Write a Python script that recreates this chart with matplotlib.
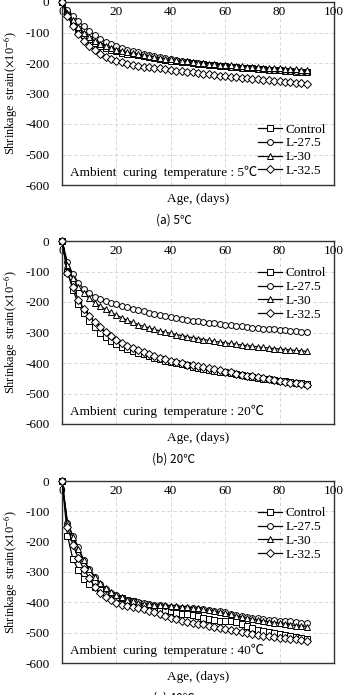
import numpy as np
import matplotlib
matplotlib.use("Agg")
import matplotlib.pyplot as plt

plt.rcParams["font.family"] = ["Liberation Serif", "Noto Sans CJK KR"]
plt.rcParams["mathtext.fontset"] = "stix"
plt.rcParams["axes.unicode_minus"] = False

# Age (days)
days = [0, 2, 4, 6, 8, 10, 12, 14, 16, 18, 20, 22, 24, 26, 28, 30, 32, 34, 36, 38,
        40, 42, 44, 46, 48, 50, 52, 54, 56, 58, 60, 62, 64, 66, 68, 70, 72, 74, 76, 78,
        80, 82, 84, 86, 88, 90]

series_names = ["Control", "L-27.5", "L-30", "L-32.5"]

# (a) 5 C
a_control = [0, -40, -68, -90, -108, -122, -133, -143, -151, -157, -162, -166, -169, -172, -175,
             -178, -181, -184, -187, -190, -192, -194, -196, -198, -200, -202, -204, -206, -208,
             -209, -211, -212, -214, -215, -217, -218, -219, -221, -222, -223, -224, -226, -227,
             -228, -229, -231]
a_l275 = [0, -25, -45, -63, -80, -95, -108, -120, -130, -138, -145, -151, -156, -161, -165,
          -169, -173, -177, -181, -185, -188, -191, -194, -196, -199, -201, -203, -205, -207,
          -209, -211, -212, -214, -215, -217, -218, -219, -221, -222, -223, -224, -225, -226,
          -227, -228, -229]
a_l30 = [0, -35, -60, -82, -100, -115, -127, -137, -145, -152, -157, -161, -165, -168, -171,
         -174, -177, -180, -183, -186, -188, -191, -193, -195, -197, -199, -201, -202, -204,
         -205, -207, -208, -209, -211, -212, -213, -214, -215, -216, -217, -218, -219, -220,
         -221, -222, -223]
a_l325 = [0, -45, -78, -105, -127, -145, -159, -170, -179, -186, -192, -197, -202, -206, -209,
          -212, -214, -216, -218, -220, -222, -225, -227, -229, -231, -233, -235, -237, -239,
          -241, -243, -245, -247, -248, -250, -252, -253, -255, -256, -258, -259, -261, -262,
          -264, -266, -268]

# (b) 20 C
b_control = [0, -100, -160, -205, -235, -262, -283, -300, -315, -327, -337, -346, -354, -360,
             -366, -372, -377, -382, -387, -392, -396, -400, -404, -408, -412, -416, -419, -422,
             -425, -428, -431, -434, -437, -440, -443, -446, -448, -451, -453, -455, -458, -460,
             -462, -464, -466, -468]
b_l275 = [0, -70, -108, -137, -158, -172, -182, -190, -197, -203, -208, -213, -218, -222, -227,
          -231, -235, -239, -243, -246, -250, -253, -256, -258, -261, -263, -266, -268, -270,
          -272, -274, -276, -278, -280, -282, -284, -285, -287, -288, -290, -291, -293, -294,
          -295, -297, -298]
b_l30 = [0, -80, -122, -152, -172, -188, -202, -214, -224, -234, -243, -252, -260, -267, -274,
         -280, -285, -290, -295, -299, -303, -307, -310, -314, -317, -320, -323, -326, -329,
         -331, -334, -336, -338, -341, -343, -345, -347, -349, -351, -353, -354, -356, -357,
         -359, -360, -362]
b_l325 = [0, -105, -150, -192, -222, -246, -265, -282, -298, -312, -324, -334, -343, -350, -357,
          -363, -369, -376, -382, -388, -393, -397, -401, -405, -408, -411, -414, -418, -421,
          -424, -428, -431, -435, -438, -441, -444, -447, -450, -453, -456, -459, -461, -464,
          -466, -468, -471]

# (c) 40 C
c_control = [0, -180, -258, -292, -322, -338, -350, -360, -368, -375, -381, -387, -392, -397,
             -402, -407, -412, -417, -422, -426, -430, -434, -437, -440, -442, -444, -450, -456,
             -459, -460, -461, -463, -466, -470, -478, -484, -490, -495, -499, -502, -505, -508,
             -511, -514, -517, -520]
c_l275 = [0, -140, -180, -218, -262, -290, -318, -340, -356, -368, -377, -385, -391, -396, -400,
          -403, -406, -408, -410, -412, -414, -416, -418, -419, -420, -421, -423, -425, -427,
          -430, -433, -437, -441, -445, -448, -451, -453, -455, -457, -459, -460, -462, -463,
          -465, -467, -469]
c_l30 = [0, -135, -185, -225, -262, -290, -315, -335, -352, -365, -375, -384, -391, -397, -401,
         -404, -406, -408, -409, -410, -411, -412, -414, -416, -418, -420, -423, -426, -429,
         -432, -436, -440, -444, -448, -452, -455, -458, -461, -464, -467, -469, -472, -474,
         -477, -479, -482]
c_l325 = [0, -150, -210, -255, -290, -320, -348, -368, -382, -393, -402, -409, -413, -416, -419,
          -422, -427, -433, -439, -445, -450, -455, -460, -464, -467, -470, -473, -477, -481,
          -485, -488, -492, -495, -498, -501, -504, -507, -510, -512, -514, -516, -518, -520,
          -522, -524, -526]

panels = [
    ("(a) 5℃", "5℃", [a_control, a_l275, a_l30, a_l325], "lower right"),
    ("(b) 20℃", "20℃", [b_control, b_l275, b_l30, b_l325], "upper right"),
    ("(c) 40℃", "40℃", [c_control, c_l275, c_l30, c_l325], "upper right"),
]

markers = ["s", "o", "^", "D"]
msizes = [4.2, 4.2, 4.2, 3.6]

# axes boxes in pixels (top, bottom) for a 347x695 figure
W, H = 347, 695
boxes = [(2, 185), (241, 424), (481, 663)]
left, right = 62, 334

fig = plt.figure(figsize=(W / 100, H / 100), dpi=100)

for (caption, temp, values, loc), (top, bottom) in zip(panels, boxes):
    ax = fig.add_axes([left / W, 1 - bottom / H, (right - left) / W, (bottom - top) / H])
    for name, vals, m, ms in zip(series_names, values, markers, msizes):
        ax.plot(days, vals, color="black", linewidth=0.9, marker=m, markersize=ms,
                markerfacecolor="white", markeredgecolor="black", markeredgewidth=0.7,
                label=name, clip_on=False, zorder=3)

    ax.set_xlim(0, 100)
    ax.set_ylim(-600, 0)
    ax.set_xticks(np.arange(0, 101, 20))
    ax.set_yticks(np.arange(-600, 1, 100))
    ax.grid(True, color="#d0d0d0", linestyle=(0, (4, 3)), linewidth=0.6)
    ax.set_axisbelow(True)
    for s in ax.spines.values():
        s.set_linewidth(1.0)
        s.set_color("#333333")

    ax.tick_params(axis="x", bottom=False, top=False, labelbottom=False, labeltop=True,
                   pad=-15, labelsize=9.5)
    ax.tick_params(axis="y", length=0, pad=9, labelsize=9.5)
    ax.xaxis.set_label_position("bottom")
    ax.set_xlabel("Age, (days)", fontsize=9.5, labelpad=6)
    ax.set_ylabel("Shrinkage  strain($\\times$10$^{-6}$)", fontsize=8.8)
    ax.yaxis.set_label_coords(-0.158, 0.5)

    ax.text(3, -558, f"Ambient  curing  temperature : {temp}", fontsize=9.5,
            ha="left", va="center")

    if loc == "lower right":
        ax.legend(loc="lower right", bbox_to_anchor=(1.0, 0.0), frameon=False,
                  fontsize=9.5, handlelength=1.8, handletextpad=0.3, labelspacing=0.12,
                  borderaxespad=0.2)
    else:
        ax.legend(loc="upper right", bbox_to_anchor=(1.0, 0.9), frameon=False,
                  fontsize=9.5, handlelength=1.8, handletextpad=0.3, labelspacing=0.12,
                  borderaxespad=0.2)

    fig.text(0.5, 1 - (bottom + 35) / H, caption, ha="center", va="center",
             fontsize=8.5, family=["Noto Sans CJK KR", "DejaVu Sans"])

fig.savefig("out.png", dpi=100)
